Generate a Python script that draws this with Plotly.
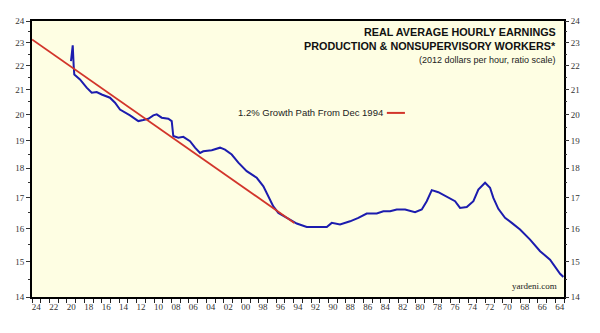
import plotly.graph_objects as go

# Real average hourly earnings, production & nonsupervisory workers (2012 $/hour)
years = [1964.07, 1964.45, 1965.6, 1966.74, 1967.89, 1969.04, 1969.99, 1970.76, 1971.53,
         1972.10, 1972.48, 1973.05, 1973.82, 1974.39, 1975.15, 1975.92, 1976.49, 1977.26,
         1978.41, 1979.16, 1979.74, 1980.31, 1981.08, 1982.22, 1983.18, 1983.94, 1984.71,
         1985.47, 1986.62, 1987.58, 1988.53, 1989.68, 1990.63, 1991.2, 1992.35, 1993.5,
         1994.64, 1995.79, 1996.75, 1997.33, 1997.9, 1998.47, 1999.23, 2000.38, 2001.34,
         2002.1, 2002.87, 2003.44, 2004.39, 2005.36, 2005.73, 2006.31, 2006.88, 2007.65,
         2008.22, 2008.8, 2008.98, 2009.37, 2010.13, 2010.7, 2011.09, 2011.66, 2012.24,
         2012.81, 2013.76, 2014.33, 2014.91, 2015.48, 2016.06, 2017.01, 2017.58, 2018.15,
         2018.73, 2019.5, 2020.15, 2020.22, 2020.33, 2020.53]
earnings = [14.56, 14.65, 15.06, 15.31, 15.66, 15.97, 16.18, 16.34, 16.63,
            16.99, 17.33, 17.50, 17.27, 16.88, 16.69, 16.66, 16.88, 16.99,
            17.18, 17.25, 16.88, 16.61, 16.52, 16.61, 16.61, 16.55, 16.55,
            16.48, 16.48, 16.34, 16.23, 16.13, 16.18, 16.05, 16.05, 16.05,
            16.16, 16.34, 16.50, 16.71, 17.04, 17.38, 17.67, 17.90, 18.20,
            18.49, 18.67, 18.74, 18.65, 18.61, 18.55, 18.74, 18.98, 19.14,
            19.11, 19.17, 19.74, 19.83, 19.87, 20.00, 19.96, 19.83, 19.78,
            19.74, 19.96, 20.06, 20.19, 20.46, 20.66, 20.79, 20.89, 20.86,
            21.07, 21.41, 21.62, 21.98, 22.89, 22.19]

# 1.2% annual growth path starting Dec 1994 (straight on a ratio scale)
path_years = [1994.92, 2025.0]
path_values = [16.18, 23.15]

# Axis ticks
y_ticks = [14, 15, 16, 17, 18, 19, 20, 21, 22, 23, 24]
y_minor = [14.5, 15.5, 16.5, 17.5, 18.5, 19.5, 20.5, 21.5, 22.5, 23.5]
x_label_years = list(range(1964, 2025, 2))
x_labels = [f"{y % 100:02d}" for y in x_label_years]
x_tick_years = list(range(1964, 2026))

BLUE = "#1c1cae"
RED = "#d2352b"
TICK_FONT = dict(family="Liberation Serif", size=9, color="#333333")

fig = go.Figure()
fig.add_trace(go.Scatter(x=years, y=earnings, mode="lines",
                         line=dict(color=BLUE, width=2), showlegend=False))
fig.add_trace(go.Scatter(x=path_years, y=path_values, mode="lines",
                         line=dict(color=RED, width=1.8), showlegend=False))

yaxis_common = dict(
    type="log", range=[1.146128, 1.380211],
    tickvals=y_ticks, ticktext=[str(v) for v in y_ticks],
    ticks="outside", ticklen=4, tickwidth=1, tickcolor="#333",
    minor=dict(tickvals=y_minor, ticks="outside", ticklen=2, tickcolor="#333"),
    showgrid=False, zeroline=False, tickfont=TICK_FONT,
)

fig.update_layout(
    width=600, height=333,
    margin=dict(l=32, r=36, t=21, b=36),
    paper_bgcolor="white", plot_bgcolor="#fefee3",
    xaxis=dict(
        range=[2025, 1964],
        tickvals=[y + 0.5 for y in x_label_years], ticktext=x_labels,
        ticks="", tickfont=TICK_FONT,
        minor=dict(tickvals=x_tick_years, ticks="outside", ticklen=4,
                   tickcolor="#222", tickwidth=1),
        showline=True, linewidth=2, linecolor="black", mirror=True,
        showgrid=False, zeroline=False,
    ),
    yaxis=dict(side="left", showline=True, linewidth=2, linecolor="black",
               mirror=True, **yaxis_common),
    yaxis2=dict(side="right", overlaying="y", matches="y", showline=False,
                **yaxis_common),
    showlegend=False,
)

# Invisible companion so the right-hand axis is drawn
fig.add_trace(go.Scatter(x=[path_years[1]], y=[path_values[1]], yaxis="y2",
                         mode="markers", marker=dict(opacity=0),
                         hoverinfo="skip", showlegend=False))

# Title block, top right
fig.add_annotation(text="<b>REAL AVERAGE HOURLY EARNINGS</b>",
                   xref="paper", yref="paper", x=0.988, y=0.99,
                   xanchor="right", yanchor="top", showarrow=False,
                   font=dict(family="Arial", size=10.8, color="#111"))
fig.add_annotation(text="<b>PRODUCTION & NONSUPERVISORY WORKERS*</b>",
                   xref="paper", yref="paper", x=0.988, y=0.938,
                   xanchor="right", yanchor="top", showarrow=False,
                   font=dict(family="Arial", size=10.8, color="#111"))
fig.add_annotation(text="(2012 dollars per hour, ratio scale)",
                   xref="paper", yref="paper", x=0.988, y=0.885,
                   xanchor="right", yanchor="top", showarrow=False,
                   font=dict(family="Arial", size=9, color="#222"))

# Legend entry for the growth path
fig.add_annotation(text="1.2% Growth Path From Dec 1994",
                   xref="paper", yref="paper", x=0.664, y=0.667,
                   xanchor="right", yanchor="middle", showarrow=False,
                   font=dict(family="Arial", size=9.5, color="#222"))
fig.add_shape(type="line", xref="paper", yref="paper",
              x0=0.667, x1=0.701, y0=0.667, y1=0.667,
              line=dict(color=RED, width=2))

fig.add_annotation(text="yardeni.com", xref="paper", yref="paper",
                   x=0.99, y=0.015, xanchor="right", yanchor="bottom",
                   showarrow=False,
                   font=dict(family="Liberation Serif", size=9, color="#222"))

fig.write_html("out.html")
